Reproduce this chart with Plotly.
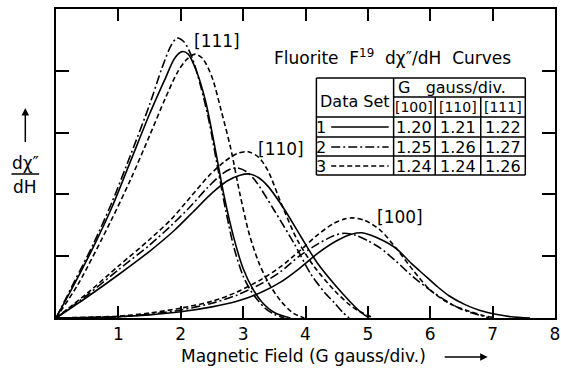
import plotly.graph_objects as go

# ---------------- data ----------------
# [111] curves
field_111_set1 = [0, 0.3, 0.6, 0.9, 1.2, 1.5, 1.75, 1.9, 2.02, 2.12, 2.25, 2.4, 2.55, 2.7, 2.85, 3.0, 3.15, 3.3, 3.5, 3.76]
chi_111_set1 = [0, 0.56, 1.15, 1.8, 2.55, 3.3, 3.87, 4.2, 4.31, 4.27, 4.0, 3.5, 2.75, 1.95, 1.3, 0.8, 0.48, 0.26, 0.09, 0]
field_111_set2 = [0, 0.3, 0.6, 0.9, 1.2, 1.5, 1.7, 1.85, 1.94, 2.05, 2.18, 2.32, 2.45, 2.58, 2.72, 2.85, 3.0, 3.15, 3.35, 3.5, 3.66]
chi_111_set2 = [0, 0.6, 1.2, 1.88, 2.65, 3.45, 4.05, 4.42, 4.53, 4.47, 4.22, 3.75, 3.2, 2.5, 1.75, 1.15, 0.68, 0.4, 0.16, 0.06, 0]
field_111_set3 = [0, 0.35, 0.87, 1.2, 1.5, 1.75, 1.95, 2.1, 2.23, 2.35, 2.5, 2.65, 2.8, 2.95, 3.1, 3.25, 3.4, 3.6, 3.8, 3.98]
chi_111_set3 = [0, 0.54, 1.55, 2.25, 2.95, 3.55, 3.98, 4.19, 4.27, 4.2, 3.9, 3.35, 2.75, 2.0, 1.35, 0.9, 0.58, 0.28, 0.08, 0]

# [110] curves
field_110_set1 = [0, 0.5, 1.0, 1.5, 1.9, 2.2, 2.5, 2.75, 2.95, 3.1, 3.25, 3.4, 3.66, 3.93, 4.19, 4.46, 4.7, 4.88, 5.02]
chi_110_set1 = [0, 0.34, 0.7, 1.08, 1.42, 1.72, 2.02, 2.22, 2.31, 2.33, 2.27, 2.13, 1.76, 1.31, 0.89, 0.55, 0.28, 0.1, 0]
field_110_set2 = [0, 0.5, 1.0, 1.5, 1.85, 2.15, 2.42, 2.65, 2.8, 2.9, 3.05, 3.19, 3.5, 3.82, 4.08, 4.3, 4.46, 4.6, 4.7]
chi_110_set2 = [0, 0.37, 0.78, 1.18, 1.5, 1.8, 2.1, 2.32, 2.41, 2.43, 2.37, 2.23, 1.74, 1.2, 0.72, 0.42, 0.25, 0.09, 0]
field_110_set3 = [0, 0.5, 1.0, 1.5, 1.85, 2.15, 2.45, 2.7, 2.9, 3.08, 3.25, 3.4, 3.6, 3.87, 4.14, 4.46, 4.7, 4.88, 5.1]
chi_110_set3 = [0, 0.4, 0.84, 1.27, 1.6, 1.95, 2.3, 2.53, 2.66, 2.69, 2.6, 2.38, 1.88, 1.26, 0.83, 0.45, 0.22, 0.1, 0]

# [100] curves
field_100_set1 = [0, 1.0, 1.5, 2.0, 2.5, 2.9, 3.3, 3.6, 3.9, 4.2, 4.5, 4.75, 4.9, 5.05, 5.25, 5.46, 5.7, 5.9, 6.1, 6.3, 6.55, 6.8, 7.05, 7.3, 7.6]
chi_100_set1 = [0, 0.02, 0.05, 0.1, 0.18, 0.27, 0.42, 0.58, 0.8, 1.05, 1.25, 1.36, 1.38, 1.34, 1.25, 1.12, 0.88, 0.7, 0.52, 0.36, 0.22, 0.12, 0.06, 0.02, 0]
field_100_set2 = [0, 1.0, 1.5, 2.0, 2.5, 2.9, 3.3, 3.6, 3.9, 4.2, 4.45, 4.61, 4.8, 5.0, 5.2, 5.45, 5.72, 6.0, 6.25, 6.5, 6.78, 6.95]
chi_100_set2 = [0, 0.02, 0.06, 0.13, 0.24, 0.37, 0.56, 0.75, 1.0, 1.2, 1.33, 1.37, 1.34, 1.25, 1.13, 0.92, 0.67, 0.45, 0.28, 0.14, 0.05, 0]
field_100_set3 = [0, 1.0, 1.5, 2.0, 2.5, 2.9, 3.3, 3.6, 3.9, 4.2, 4.45, 4.62, 4.75, 4.95, 5.2, 5.46, 5.72, 6.0, 6.3, 6.62, 6.85, 7.05]
chi_100_set3 = [0, 0.03, 0.08, 0.16, 0.27, 0.42, 0.63, 0.83, 1.08, 1.35, 1.53, 1.6, 1.62, 1.58, 1.42, 1.12, 0.78, 0.45, 0.24, 0.11, 0.04, 0]

curve_labels = ["[111]", "[110]", "[100]"]
curve_label_pos = [(2.58, 4.48), (3.6, 2.73), (5.52, 1.63)]

x_ticks = [1, 2, 3, 4, 5, 6, 7, 8]
x_tick_labels = ["1", "2", "3", "4", "5", "6", "7", "8"]
y_ticks = [1, 2, 3, 4]

data_sets = ["1", "2", "3"]
directions = ["[100]", "[110]", "[111]"]
gauss_per_div = [["1.20", "1.21", "1.22"],
                 ["1.25", "1.26", "1.27"],
                 ["1.24", "1.24", "1.26"]]

# ---------------- styling ----------------
FONT = "DejaVu Sans"
DASHES = ["solid", "9px,3px,2px,3px", "5px,3px"]

fig = go.Figure()
series = [
    (field_111_set1, chi_111_set1, 0), (field_111_set2, chi_111_set2, 1), (field_111_set3, chi_111_set3, 2),
    (field_110_set1, chi_110_set1, 0), (field_110_set2, chi_110_set2, 1), (field_110_set3, chi_110_set3, 2),
    (field_100_set1, chi_100_set1, 0), (field_100_set2, chi_100_set2, 1), (field_100_set3, chi_100_set3, 2),
]
for xs, ys, k in series:
    fig.add_trace(go.Scatter(x=xs, y=ys, mode="lines",
                             line=dict(color="black", width=1.6, dash=DASHES[k], shape="spline", smoothing=0.8),
                             showlegend=False, hoverinfo="skip"))

# pixel -> paper helpers (plot area: x 56..560, y 9..318)
L, R, T, B = 56, 560, 9, 318
def px(x):
    return (x - L) / (R - L)
def py(y):
    return (B - y) / (B - T)

annotations = []
shapes = []

def text(x, y, s, size=17, xanchor="center"):
    annotations.append(dict(x=px(x), y=py(y), xref="paper", yref="paper", text=s, showarrow=False,
                            xanchor=xanchor, yanchor="middle", font=dict(family=FONT, size=size, color="black")))

def hline(x0, x1, y, w=1.5, dash="solid"):
    shapes.append(dict(type="line", xref="paper", yref="paper", x0=px(x0), x1=px(x1), y0=py(y), y1=py(y),
                       line=dict(color="black", width=w, dash=dash)))

def vline(x, y0, y1, w=1.5):
    shapes.append(dict(type="line", xref="paper", yref="paper", x0=px(x), x1=px(x), y0=py(y0), y1=py(y1),
                       line=dict(color="black", width=w)))

# curve labels (data coords)
for lab, (lx, ly) in zip(curve_labels, curve_label_pos):
    annotations.append(dict(x=lx, y=ly, xref="x", yref="y", text=lab, showarrow=False,
                            font=dict(family=FONT, size=17, color="black")))

# title inside plot
text(396, 57, "Fluorite  F<sup>19</sup>  dχ″/dH  Curves", size=17)

# table
tl, tr, tt, tb = 319, 530, 78, 175
col_x = [397, 439, 485, 530]
row_y = [117, 137, 156, 175]
row_mid = [127, 147, 166]
hline(tl, tr, tt); hline(tl, tr, tb)
vline(tl, tt, tb); vline(tr, tt, tb); vline(col_x[0], tt, tb)
hline(col_x[0], tr, 97)
for yy in row_y[:-1]:
    hline(tl, tr, yy)
for cx in col_x[1:3]:
    vline(cx, 97, tb)
text(358, 101, "Data Set", size=16)
text(399, 87, "G   gauss/div.", size=16, xanchor="left")
for j, d in enumerate(directions):
    text((col_x[j] + col_x[j + 1]) / 2, 107, d, size=14)
for i, ds in enumerate(data_sets):
    yc = row_mid[i]
    text(324, yc, ds, size=16)
    hline(334, 392, yc, w=1.5, dash=DASHES[i])
    for j in range(3):
        text((col_x[j] + col_x[j + 1]) / 2, yc, gauss_per_div[i][j], size=16)

# y label: fraction with arrow
text(25, 163, "dχ″", size=17)
hline(11, 39, 174, w=1.5)
text(25, 187, "dH", size=17)
annotations.append(dict(x=px(25), y=py(108), xref="paper", yref="paper", ax=0, ay=44, showarrow=True,
                        arrowhead=2, arrowsize=1, arrowwidth=1.5, arrowcolor="black", text=" "))

# x title with arrow
text(306, 356, "Magnetic Field (G gauss/div.)", size=17)
annotations.append(dict(x=px(492), y=py(357), xref="paper", yref="paper", ax=-46, ay=0, showarrow=True,
                        arrowhead=2, arrowsize=1, arrowwidth=1.5, arrowcolor="black", text=" "))

fig.update_layout(
    width=561, height=370, autosize=False,
    margin=dict(l=L, r=561 - R, t=T, b=370 - B),
    paper_bgcolor="white", plot_bgcolor="white",
    annotations=annotations, shapes=shapes,
    xaxis=dict(range=[0, 8], tickvals=x_ticks, ticktext=x_tick_labels, ticks="inside", ticklen=12, tickwidth=1.5,
               tickcolor="black", showline=True, linewidth=2, linecolor="black", mirror="ticks",
               ticklabeloverflow="allow",
               showgrid=False, zeroline=False, tickfont=dict(family=FONT, size=17, color="black")),
    yaxis=dict(range=[0, 5], tickvals=y_ticks, showticklabels=False, ticks="inside", ticklen=13, tickwidth=1.5,
               tickcolor="black", showline=True, linewidth=2, linecolor="black", mirror="ticks",
               showgrid=False, zeroline=False),
)

fig.write_html("out.html", config={"displayModeBar": False, "responsive": False},
               post_script="document.body.style.margin='0px';document.body.style.overflow='hidden';")
